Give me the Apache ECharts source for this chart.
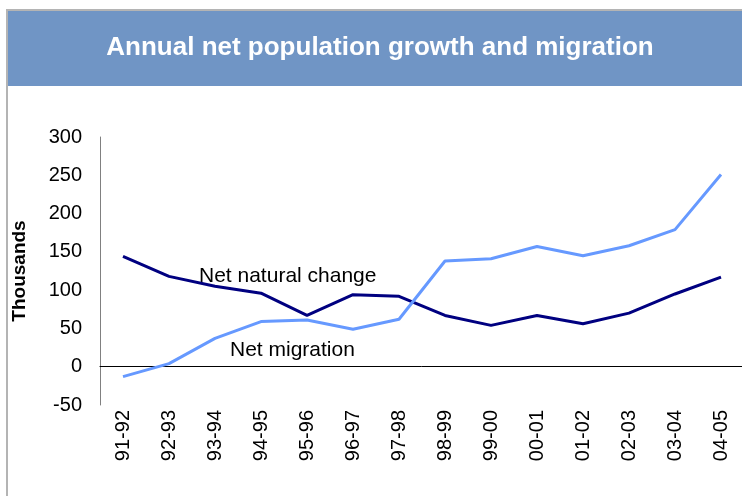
<!DOCTYPE html>
<html>
<head>
<meta charset="utf-8">
<script src="https://cdn.jsdelivr.net/npm/echarts@6/dist/echarts.min.js"></script>
<style>
  html, body { margin: 0; padding: 0; background: #fff; }
  #chart { width: 742px; height: 496px; }
</style>
</head>
<body>
<div id="chart"></div>
<script>
// Financial years (short form)
const years = ['91-92','92-93','93-94','94-95','95-96','96-97','97-98','98-99','99-00','00-01','01-02','02-03','03-04','04-05'];
// Thousands of people
const netNaturalChange = [144, 118, 105, 96, 67, 94, 92, 67, 54, 67, 56, 70, 95, 117];
const netMigration = [-13, 4, 37, 59, 61, 49, 62, 138, 141, 157, 145, 158, 179, 251];
const yTicks = { min: -50, max: 300, interval: 50 };

const chart = echarts.init(document.getElementById('chart'));
const font = 'Liberation Sans, Arial, sans-serif';

chart.setOption({
  animation: false,
  backgroundColor: '#ffffff',
  graphic: [
    // outer frame edges
    { type: 'rect', shape: { x: 6, y: 9, width: 740, height: 2 }, style: { fill: '#b4b4b4' }, silent: true },
    { type: 'rect', shape: { x: 6, y: 9, width: 2, height: 490 }, style: { fill: '#b4b4b4' }, silent: true },
    // title band
    { type: 'rect', shape: { x: 8, y: 11, width: 740, height: 75 }, style: { fill: '#7095c5' }, silent: true },
    { type: 'text', x: 380, y: 48, style: { text: 'Annual net population growth and migration', fill: '#ffffff', font: 'bold 26px ' + font, textAlign: 'center', textVerticalAlign: 'middle' }, silent: true },
    // series annotations
    { type: 'text', x: 199, y: 276, style: { text: 'Net natural change', fill: '#000000', font: '21px ' + font, textAlign: 'left', textVerticalAlign: 'middle' }, silent: true },
    { type: 'text', x: 230, y: 350, style: { text: 'Net migration', fill: '#000000', font: '21px ' + font, textAlign: 'left', textVerticalAlign: 'middle' }, silent: true }
  ],
  grid: { left: 100, right: -2, top: 137, bottom: 91, containLabel: false, outerBoundsMode: 'none' },
  xAxis: {
    type: 'category',
    data: years,
    boundaryGap: true,
    axisLine: { onZero: true, lineStyle: { color: '#000', width: 1 } },
    axisTick: { show: false },
    axisLabel: { rotate: 90, color: '#000', fontSize: 20, fontFamily: font, margin: 5, verticalAlign: 'middle', align: 'right' },
    splitLine: { show: false }
  },
  yAxis: {
    type: 'value',
    min: yTicks.min, max: yTicks.max, interval: yTicks.interval,
    name: 'Thousands',
    nameLocation: 'middle',
    nameRotate: 90,
    nameGap: 71,
    nameTextStyle: { color: '#000', fontSize: 19, fontWeight: 'bold', fontFamily: font },
    axisLine: { show: true, lineStyle: { color: '#808080', width: 1 } },
    axisTick: { show: false },
    axisLabel: { color: '#000', fontSize: 20, fontFamily: font, margin: 18 },
    splitLine: { show: false }
  },
  series: [
    {
      name: 'Net natural change', type: 'line', data: netNaturalChange,
      symbol: 'none', lineStyle: { color: '#000080', width: 3 }, itemStyle: { color: '#000080' }
    },
    {
      name: 'Net migration', type: 'line', data: netMigration,
      symbol: 'none', lineStyle: { color: '#6699ff', width: 3 }, itemStyle: { color: '#6699ff' }
    }
  ]
});
</script>
</body>
</html>
